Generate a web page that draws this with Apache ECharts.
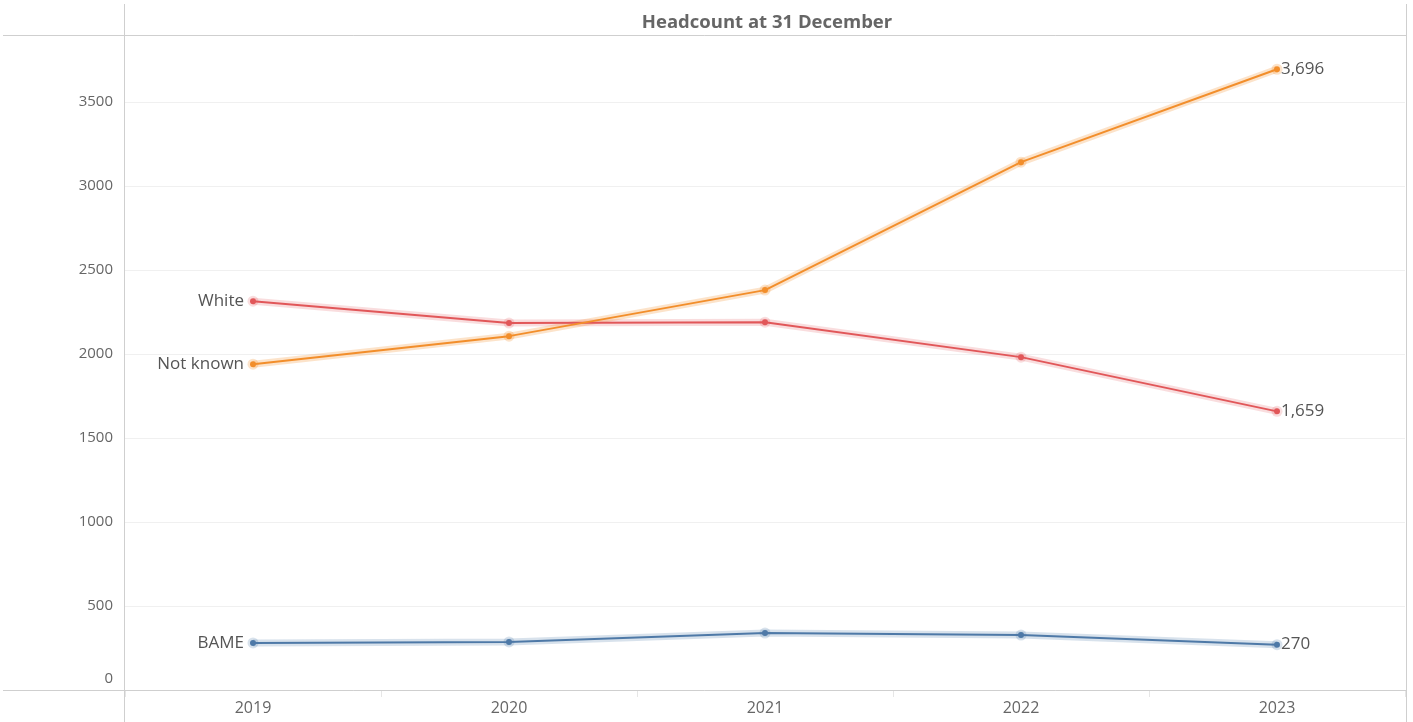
<!DOCTYPE html>
<html><head><meta charset="utf-8">
<script src="https://cdn.jsdelivr.net/npm/echarts@6/dist/echarts.min.js"></script>
<style>html,body{margin:0;padding:0;background:#fff}#c{width:1413px;height:722px}</style>
</head><body><div id="c"></div>
<script>
const years = ['2019','2020','2021','2022','2023'];
const notKnown = [1940, 2107, 2381, 3143, 3696];
const white = [2315, 2185, 2190, 1982, 1659];
const bame = [280, 286, 339, 327, 270];
const yTicks = [0, 500, 1000, 1500, 2000, 2500, 3000, 3500];

const FONT = '"Open Sans", "Noto Sans", sans-serif';
const chart = echarts.init(document.getElementById('c'), null, {renderer: 'canvas'});

function fmt(v){ return v.toLocaleString('en-US'); }

function seriesWithLabels(name, data, color, halo){
  const n = data.length;
  return [
    {
      name: name + '_halo', type: 'line', data: data, silent: true,
      symbol: 'circle', symbolSize: 11, showSymbol: true,
      itemStyle: {color: halo}, lineStyle: {color: halo, width: 7},
      z: 1, animation: false
    },
    {
      name: name, type: 'line',
      data: data.map(function(v, i){
        if (i === 0) return {value: v, label: {show: true, position: 'left', distance: 6, formatter: name}};
        if (i === n - 1) return {value: v, label: {show: true, position: 'right', distance: 1, formatter: fmt(v)}};
        return {value: v, label: {show: false}};
      }),
      symbol: 'circle', symbolSize: 6,
      itemStyle: {color: color}, lineStyle: {color: color, width: 2},
      z: 2, animation: false,
      label: {show: true, fontFamily: FONT, fontSize: 17, color: '#555'}
    }
  ];
}

const series = [].concat(
  seriesWithLabels('BAME', bame, '#4e79a7', 'rgba(78,121,167,0.22)'),
  seriesWithLabels('White', white, '#e15759', 'rgba(225,87,89,0.2)'),
  seriesWithLabels('Not known', notKnown, '#f28e2b', 'rgba(242,142,43,0.25)')
);

const lineStyle = {stroke: '#cfcfcf', lineWidth: 1};
chart.setOption({
  backgroundColor: '#fff',
  animation: false,
  title: {
    text: 'Headcount at 31 December', left: 762, top: 8, textAlign: 'center',
    textStyle: {fontFamily: FONT, fontSize: 18.5, fontWeight: 'bold', color: '#666'}
  },
  grid: {left: 125, right: 8, top: 35, bottom: 32, containLabel: false},
  xAxis: {
    type: 'category', data: years, boundaryGap: true,
    axisLine: {show: false},
    axisTick: {show: true, length: 7, lineStyle: {color: '#e6e6e6'}},
    axisLabel: {fontFamily: FONT, fontSize: 16, color: '#666', margin: 10},
    splitLine: {show: false}
  },
  yAxis: {
    type: 'value', min: 0, max: 3900, interval: 500,
    axisLine: {show: false}, axisTick: {show: false},
    axisLabel: {
      fontFamily: FONT, fontSize: 15, color: '#666', margin: 12,
      formatter: function(v){
        if (yTicks.indexOf(v) < 0) return '';
        if (v === 0) return '{z|0}';
        return String(v);
      },
      rich: {z: {fontFamily: FONT, fontSize: 15, color: '#666', padding: [0, 0, 22, 0]}}
    },
    splitLine: {show: true, lineStyle: {color: '#f0f0f0', width: 1}}
  },
  series: series,
  graphic: [
    {type: 'line', shape: {x1: 3, y1: 35.5, x2: 1406, y2: 35.5}, style: lineStyle, z: 100},
    {type: 'line', shape: {x1: 3, y1: 690.5, x2: 1406, y2: 690.5}, style: lineStyle, z: 100},
    {type: 'line', shape: {x1: 124.5, y1: 4, x2: 124.5, y2: 722}, style: lineStyle, z: 100},
    {type: 'line', shape: {x1: 1406.5, y1: 4, x2: 1406.5, y2: 722}, style: lineStyle, z: 100}
  ]
});
</script>
</body></html>
